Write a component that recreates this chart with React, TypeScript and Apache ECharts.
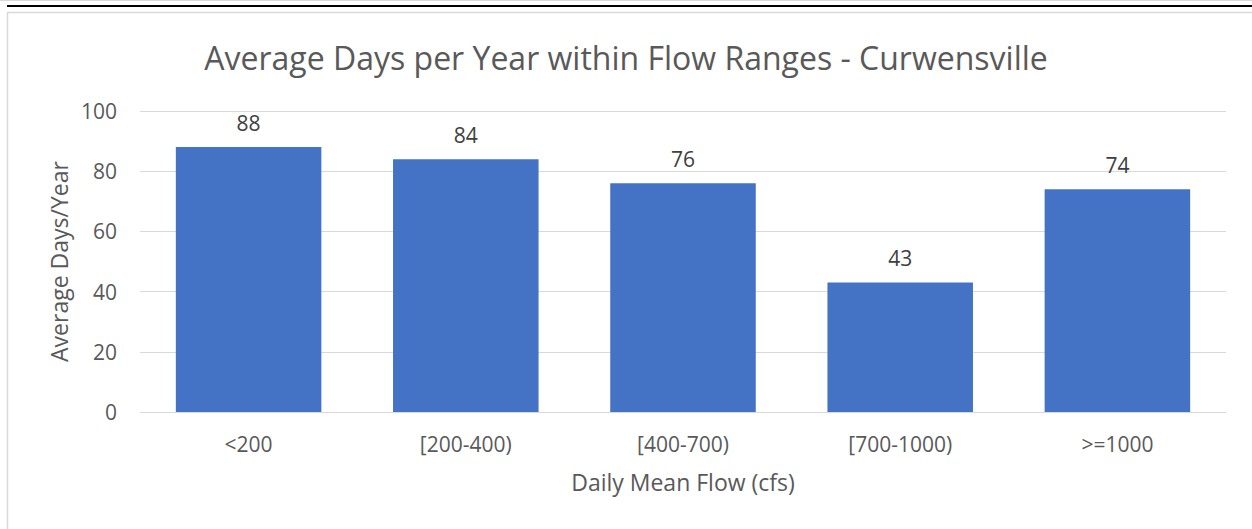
import React, { useEffect, useRef } from "react";
import * as echarts from "echarts";

const categories = ["<200", "[200-400)", "[400-700)", "[700-1000)", ">=1000"];
const values = [88, 84, 76, 43, 74];
const yTicks = [0, 20, 40, 60, 80, 100];

const FONT = "'Open Sans', 'Noto Sans', sans-serif";
const TXT = "#595959";

export default function App() {
  const ref = useRef<HTMLDivElement>(null);
  useEffect(() => {
    if (!ref.current) return;
    const chart = echarts.init(ref.current, undefined, { renderer: "svg" });
    chart.setOption({
      animation: false,
      backgroundColor: "#ffffff",
      title: {
        text: "Average Days per Year within Flow Ranges - Curwensville",
        left: "center",
        top: 36,
        textStyle: { fontFamily: FONT, fontSize: 32, fontWeight: "normal", color: TXT },
      },
      graphic: [
        { type: "line", shape: { x1: 0, y1: 0.5, x2: 1252, y2: 0.5 }, style: { stroke: "#d9d9d9", lineWidth: 1 } },
        { type: "line", shape: { x1: 7, y1: 6, x2: 1252, y2: 6 }, style: { stroke: "#000000", lineWidth: 2 } },
        { type: "line", shape: { x1: 7, y1: 12.5, x2: 1252, y2: 12.5 }, style: { stroke: "#d9d9d9", lineWidth: 1.5 } },
        { type: "line", shape: { x1: 7.5, y1: 12, x2: 7.5, y2: 529 }, style: { stroke: "#d9d9d9", lineWidth: 1.5 } },
      ],
      grid: { left: 140, right: 26, top: 111, bottom: 117, containLabel: false },
      xAxis: {
        type: "category",
        data: categories,
        name: "Daily Mean Flow (cfs)",
        nameLocation: "middle",
        nameGap: 58,
        nameTextStyle: { fontFamily: FONT, fontSize: 23, color: TXT },
        axisLine: { show: true, lineStyle: { color: "#d9d9d9", width: 1 } },
        axisTick: { show: false },
        axisLabel: { fontFamily: FONT, fontSize: 21, color: TXT, margin: 21 },
      },
      yAxis: {
        type: "value",
        min: 0,
        max: 100,
        interval: 20,
        name: "Average Days/Year",
        nameLocation: "middle",
        nameGap: 68,
        nameTextStyle: { fontFamily: FONT, fontSize: 23, color: TXT },
        axisLine: { show: false },
        axisTick: { show: false },
        axisLabel: {
          fontFamily: FONT,
          fontSize: 21,
          color: TXT,
          margin: 23,
          formatter: (v: number) => (yTicks.includes(v) ? String(v) : ""),
        },
        splitLine: { lineStyle: { color: "#d9d9d9", width: 1 } },
      },
      series: [
        {
          type: "bar",
          data: values,
          barCategoryGap: "33%",
          itemStyle: { color: "#4472C4" },
          label: {
            show: true,
            position: "top",
            distance: 14,
            fontFamily: FONT,
            fontSize: 21,
            color: "#404040",
          },
        },
      ],
    });
    return () => chart.dispose();
  }, []);
  return (
    <div
      ref={ref}
      style={{ position: "absolute", left: 0, top: 0, width: 1252, height: 529 }}
    />
  );
}
